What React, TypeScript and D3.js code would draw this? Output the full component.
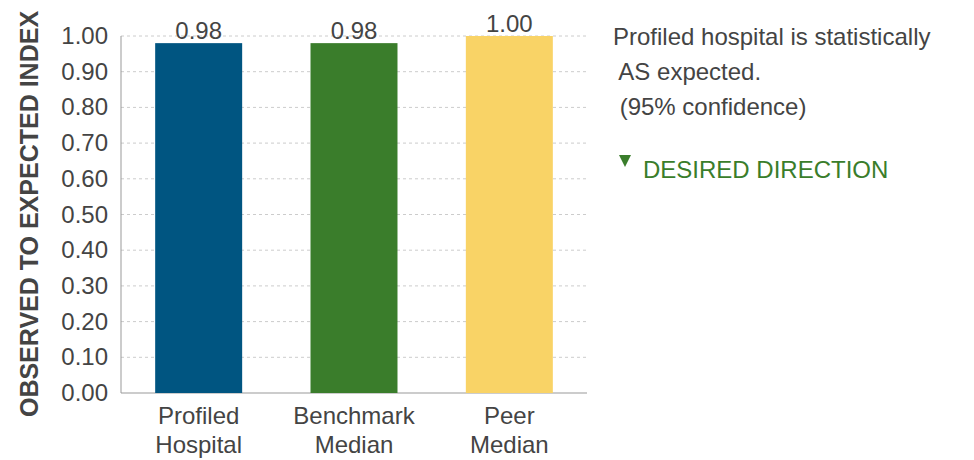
import React from 'react';
import * as d3 from 'd3';

const categories = [['Profiled', 'Hospital'], ['Benchmark', 'Median'], ['Peer', 'Median']];
const values = [0.98, 0.98, 1.0];
const labels = ['0.98', '0.98', '1.00'];
const colors = ['#005581', '#3a7d2b', '#f9d366'];
const ticks = [0, 0.1, 0.2, 0.3, 0.4, 0.5, 0.6, 0.7, 0.8, 0.9, 1.0];

const App: React.FC = () => {
  const left = 121, right = 587, top = 36, bottom = 393;
  const y = d3.scaleLinear().domain([0, 1]).range([bottom, top]);
  const x = d3.scaleBand<number>().domain([0, 1, 2]).range([left, right]).paddingInner(0.44).paddingOuter(0.22);
  const font = 'Liberation Sans, Arial, sans-serif';
  const fs = 24;
  return (
    <svg width={974} height={460} style={{ position: 'absolute', left: 0, top: 0 }} fontFamily={font}>
      {ticks.map(t => (
        <g key={t}>
          {t > 0 && <line x1={left} x2={right} y1={y(t)} y2={y(t)} stroke="#ccc" strokeDasharray="3,3" />}
          <text x={108} y={y(t) + 8} textAnchor="end" fontSize={fs} fill="#444">{t.toFixed(2)}</text>
        </g>
      ))}
      <line x1={left} x2={left} y1={top} y2={bottom} stroke="#999" />
      <line x1={left} x2={right} y1={bottom} y2={bottom} stroke="#999" />
      {values.map((v, i) => (
        <g key={i}>
          <rect x={x(i)} y={y(v)} width={x.bandwidth()} height={bottom - y(v)} fill={colors[i]} />
          <text x={x(i)! + x.bandwidth() / 2} y={y(v) - 4} textAnchor="middle" fontSize={fs} fill="#444">{labels[i]}</text>
          {categories[i].map((c, j) => (
            <text key={j} x={x(i)! + x.bandwidth() / 2} y={424 + j * 29} textAnchor="middle" fontSize={fs} fill="#444">{c}</text>
          ))}
        </g>
      ))}
      <text transform="translate(38,214) rotate(-90)" textAnchor="middle" fontSize={25} fontWeight="bold" fill="#444">OBSERVED TO EXPECTED INDEX</text>
      <text x={613} y={45} fontSize={fs} fill="#444">Profiled hospital is statistically</text>
      <text x={613} y={80} fontSize={fs} fill="#444" xmlSpace="preserve"> AS expected.</text>
      <text x={613} y={115} fontSize={fs} fill="#444" xmlSpace="preserve"> (95% confidence)</text>
      <path d="M619,155 L631,155 L625,167 Z" fill="#3a7d2b" />
      <text x={643} y={178} fontSize={fs} fill="#3a7d2b">DESIRED DIRECTION</text>
    </svg>
  );
};

export default App;
